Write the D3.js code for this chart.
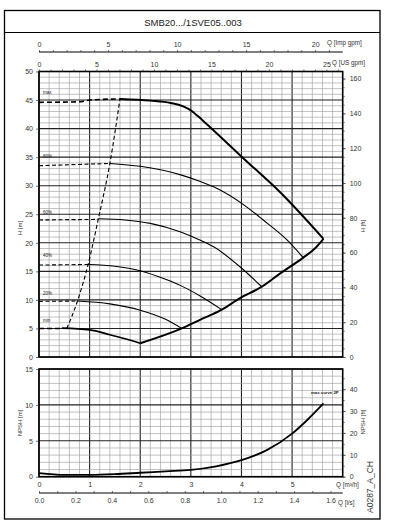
<!DOCTYPE html>
<html>
<head>
<meta charset="utf-8">
<script src="https://cdn.jsdelivr.net/npm/d3@7"></script>
<style>
  body { margin: 0; background: #fff; }
  svg { display: block; font-family: "Liberation Sans", Arial, sans-serif; }
</style>
</head>
<body>
<script>
// values, Q in m3/h, H in m
var maxDashed = [[0, 44.6], [0.8, 44.7], [1.0, 45.0], [1.6, 45.2]];
var maxCurve = [[1.6, 45.2], [2.2, 44.9], [2.6, 44.5], [2.85, 43.9], [3.0, 43.2], [3.15, 42.1], [3.3, 40.9], [4.1, 34.3], [4.76, 28.9], [5.62, 20.7]];
var limitCurve = [[2.0, 2.4], [2.82, 5.0], [3.18, 6.5], [3.61, 8.3], [3.97, 10.3], [4.4, 12.3], [4.76, 14.6], [5.22, 17.4], [5.45, 19.0], [5.62, 20.7]];
var minDashed = [[0, 5.0], [0.45, 5.0]];
var minCurve = [[0.45, 5.05], [1.0, 4.75], [1.4, 3.9], [1.7, 3.2], [2.0, 2.4]];
var c20Dashed = [[0, 9.75], [0.76, 9.8]];
var c20 = [[0.76, 9.8], [1.4, 9.3], [2.0, 8.2], [2.5, 6.6], [2.82, 5.0]];
var c40Dashed = [[0, 16.1], [0.97, 16.2]];
var c40 = [[0.97, 16.2], [1.5, 15.9], [2.0, 15.1], [2.5, 13.6], [2.8, 12.5], [3.2, 10.6], [3.61, 8.3]];
var c60Dashed = [[0, 24.0], [1.17, 24.1]];
var c60 = [[1.17, 24.2], [1.7, 24.0], [2.2, 23.4], [2.8, 21.9], [3.2, 20.4], [3.45, 19.3], [3.97, 15.8], [4.4, 12.3]];
var c80Dashed = [[0, 33.5], [1.4, 33.9]];
var c80 = [[1.4, 33.9], [2.0, 33.4], [2.8, 31.9], [3.2, 30.7], [3.45, 29.8], [4.1, 26.3], [4.43, 24.0], [4.9, 20.5], [5.22, 17.4]];
var effLine = [[0.55, 5.0], [0.76, 9.8], [0.97, 16.2], [1.17, 24.1], [1.4, 33.9], [1.6, 45.2]];
var npsh = [[0, 0.5], [0.5, 0.25], [1.0, 0.25], [1.5, 0.35], [2.0, 0.55], [2.5, 0.75], [3.0, 0.95], [3.5, 1.45], [4.0, 2.3], [4.5, 3.7], [5.0, 6.0], [5.3, 7.9], [5.62, 10.2]];

var speedLabels = [["max", 46.1], ["80%", 34.8], ["60%", 25.0], ["40%", 17.5], ["20%", 10.9], ["min", 6.1]];
var hTicks = [0, 5, 10, 15, 20, 25, 30, 35, 40, 45, 50];
var ftTicks = [0, 20, 40, 60, 80, 100, 120, 140, 160];
var npshTicks = [0, 5, 10, 15];
var npshFtTicks = [0, 10, 20, 30, 40];
var m3hTicks = [0, 1, 2, 3, 4, 5];
var lsTicks = [0, 0.2, 0.4, 0.6, 0.8, 1.0, 1.2, 1.4, 1.6];
var impTicks = [0, 5, 10, 15, 20];
var usTicks = [0, 5, 10, 15, 20, 25];

var W = 396, H = 529;
var svg = d3.select("body").append("svg").attr("width", W).attr("height", H);

var left = 39, right = 342.7;
var x = d3.scaleLinear().domain([0, 6]).range([left, right]);
var xImp = d3.scaleLinear().domain([0, 6 / 0.272765]).range([left, right]);
var xUs = d3.scaleLinear().domain([0, 6 / 0.227125]).range([left, right]);
var xLs = d3.scaleLinear().domain([0, 6 / 3.6]).range([left, right]);

var yH = d3.scaleLinear().domain([0, 50]).range([357, 71.5]);
var yFt = d3.scaleLinear().domain([0, 50 / 0.3048]).range([357, 71.5]);
var yN = d3.scaleLinear().domain([0, 15]).range([476.7, 369]);
var yNft = d3.scaleLinear().domain([0, 15 / 0.3048]).range([476.7, 369]);

var intFmt = d3.format("d");

// frame + title
svg.append("rect").attr("x", 4.5).attr("y", 10.5).attr("width", 375.5).attr("height", 508.5)
  .attr("fill", "none").attr("stroke", "#000").attr("stroke-width", 1.3);
svg.append("line").attr("x1", 4.5).attr("x2", 380).attr("y1", 32.5).attr("y2", 32.5)
  .attr("stroke", "#000").attr("stroke-width", 1.1);
svg.append("text").attr("x", 193).attr("y", 26).attr("text-anchor", "middle")
  .attr("font-size", 9.5).attr("fill", "#222").text("SMB20.../1SVE05..003");

function grid(yScale, hMin, hMax) {
  var g = svg.append("g");
  var xs = d3.range(0, 30).map(i => i * 0.2);
  g.selectAll(".vx").data(xs).join("line")
    .attr("x1", d => x(d)).attr("x2", d => x(d))
    .attr("y1", yScale(hMin)).attr("y2", yScale(hMax))
    .attr("stroke", d => Math.abs(d - Math.round(d)) < 1e-6 ? "#222" : "#999")
    .attr("stroke-width", d => Math.abs(d - Math.round(d)) < 1e-6 ? 1.1 : 0.6);
  var hs = d3.range(hMin, hMax + 1);
  g.selectAll(".hy").data(hs).join("line")
    .attr("x1", left).attr("x2", right)
    .attr("y1", d => yScale(d)).attr("y2", d => yScale(d))
    .attr("stroke", d => d % 5 == 0 ? "#222" : "#999")
    .attr("stroke-width", d => d % 5 == 0 ? 1.1 : 0.6);
  svg.append("rect").attr("x", left).attr("y", yScale(hMax))
    .attr("width", right - left).attr("height", yScale(hMin) - yScale(hMax))
    .attr("fill", "none").attr("stroke", "#000").attr("stroke-width", 1.6);
}
grid(yH, 0, 50);
grid(yN, 0, 15);

function styleAxis(g) {
  g.select(".domain").remove();
  g.selectAll(".tick line").attr("stroke", "#333").attr("stroke-width", 0.7);
  g.selectAll(".tick text").attr("font-size", 7).attr("fill", "#333");
}

// left / right value axes
svg.append("g").attr("transform", `translate(${left},0)`)
  .call(d3.axisLeft(yH).tickValues(hTicks).tickSize(3).tickPadding(3).tickFormat(intFmt)).call(styleAxis);
svg.append("g").attr("transform", `translate(${right},0)`)
  .call(d3.axisRight(yFt).tickValues(d3.range(0, 165, 5)).tickSize(2).tickFormat("")).call(styleAxis);
svg.append("g").attr("transform", `translate(${right},0)`)
  .call(d3.axisRight(yFt).tickValues(ftTicks).tickSize(3).tickPadding(4).tickFormat(intFmt)).call(styleAxis);

svg.append("g").attr("transform", `translate(${left},0)`)
  .call(d3.axisLeft(yN).tickValues(npshTicks).tickSize(3).tickPadding(3).tickFormat(intFmt)).call(styleAxis);
svg.append("g").attr("transform", `translate(${right},0)`)
  .call(d3.axisRight(yNft).tickValues(d3.range(0, 50, 5)).tickSize(2).tickFormat("")).call(styleAxis);
svg.append("g").attr("transform", `translate(${right},0)`)
  .call(d3.axisRight(yNft).tickValues(npshFtTicks).tickSize(3).tickPadding(4).tickFormat(intFmt)).call(styleAxis);

// top flow axes
svg.append("line").attr("x1", left).attr("x2", right).attr("y1", 52).attr("y2", 52)
  .attr("stroke", "#000").attr("stroke-width", 1.1);
svg.append("g").attr("transform", "translate(0,52)")
  .call(d3.axisTop(xImp).tickValues(d3.range(0, 22, 1)).tickSize(2).tickFormat("")).call(styleAxis);
svg.append("g").attr("transform", "translate(0,52)")
  .call(d3.axisTop(xImp).tickValues(impTicks).tickSize(0).tickPadding(5).tickFormat(intFmt)).call(styleAxis);
svg.append("g").attr("transform", "translate(0,71.5)")
  .call(d3.axisTop(xUs).tickValues(d3.range(0, 27, 1)).tickSize(2).tickFormat("")).call(styleAxis);
svg.append("g").attr("transform", "translate(0,71.5)")
  .call(d3.axisTop(xUs).tickValues(usTicks).tickSize(0).tickPadding(5).tickFormat(intFmt)).call(styleAxis);
svg.append("text").attr("x", 327).attr("y", 45).attr("font-size", 6.3).attr("fill", "#333").text("Q [Imp gpm]");
svg.append("text").attr("x", 332).attr("y", 64.5).attr("font-size", 6.3).attr("fill", "#333").text("Q [US gpm]");

// bottom flow axes
svg.append("g").attr("transform", "translate(0,476.7)")
  .call(d3.axisBottom(x).tickValues(m3hTicks).tickSize(0).tickPadding(5).tickFormat(intFmt)).call(styleAxis);
svg.append("line").attr("x1", left).attr("x2", right).attr("y1", 493).attr("y2", 493)
  .attr("stroke", "#000").attr("stroke-width", 1.1);
svg.append("g").attr("transform", "translate(0,493)")
  .call(d3.axisTop(xLs).tickValues(d3.range(0, 1.67, 0.1)).tickSize(2).tickFormat("")).call(styleAxis);
svg.append("g").attr("transform", "translate(0,493)")
  .call(d3.axisBottom(xLs).tickValues(lsTicks).tickSize(0).tickPadding(5).tickFormat(d3.format(".1f"))).call(styleAxis);
svg.append("text").attr("x", 336).attr("y", 487).attr("font-size", 6.3).attr("fill", "#333").text("Q [m³/h]");
svg.append("text").attr("x", 338).attr("y", 505).attr("font-size", 6.3).attr("fill", "#333").text("Q [l/s]");

// axis titles
function vtitle(tx, ty, txt, size) {
  svg.append("text").attr("transform", `translate(${tx},${ty}) rotate(-90)`)
    .attr("text-anchor", "middle").attr("font-size", size || 6).attr("fill", "#333").text(txt);
}
vtitle(22, 228, "H [m]");
vtitle(365, 226, "H [ft]");
vtitle(22, 423, "NPSH [m]");
vtitle(365, 422, "NPSH [ft]");
vtitle(373, 487, "A0287_A_CH", 8.5);

// curves
var lineH = d3.line().x(d => x(d[0])).y(d => yH(d[1])).curve(d3.curveMonotoneX);

function draw(data, w, dash) {
  svg.append("path").datum(data)
    .attr("fill", "none").attr("stroke", "#000")
    .attr("stroke-width", w)
    .attr("stroke-dasharray", dash || null)
    .attr("stroke-linejoin", "round")
    .attr("d", lineH);
}
[c80Dashed, c60Dashed, c40Dashed, c20Dashed].forEach(d => draw(d, 1.1, "4,2.5"));
draw(maxDashed, 1.6, "5,3");
draw(minDashed, 1.4, "5,3");
draw(effLine, 1.1, "4,2.5");
[c80, c60, c40, c20].forEach(d => draw(d, 1.1));
draw(maxCurve, 2);
draw(limitCurve, 2);
draw(minCurve, 1.7);

svg.selectAll(".spd").data(speedLabels).join("text")
  .attr("x", 43).attr("y", d => yH(d[1]))
  .attr("font-size", 4.5).attr("fill", "#222").text(d => d[0]);

var lineN = d3.line().x(d => x(d[0])).y(d => yN(d[1])).curve(d3.curveMonotoneX);
svg.append("path").datum(npsh)
  .attr("fill", "none").attr("stroke", "#000").attr("stroke-width", 1.8).attr("d", lineN);
svg.append("text").attr("x", 311).attr("y", 393.5).attr("font-size", 4.3)
  .attr("font-weight", "bold").attr("fill", "#222").text("max curve 2P");
</script>
</body>
</html>
